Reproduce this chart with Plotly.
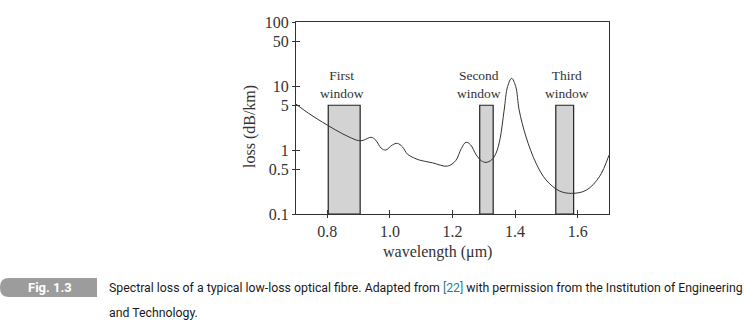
import math
import plotly.graph_objects as go

# ---- data ----
wavelength_um = [0.70, 0.74, 0.80, 0.85, 0.90, 0.915, 0.94, 0.955, 0.972, 0.987,
                 1.008, 1.024, 1.04, 1.056, 1.075, 1.093, 1.136, 1.184, 1.21, 1.228,
                 1.243, 1.258, 1.275, 1.292, 1.307, 1.325, 1.339, 1.352, 1.365, 1.376,
                 1.389, 1.402, 1.413, 1.435, 1.467, 1.499, 1.541, 1.580, 1.627, 1.669, 1.70]
loss_db_km = [5.2, 3.75, 2.45, 1.78, 1.40, 1.42, 1.58, 1.42, 1.07, 1.0,
              1.2, 1.27, 1.12, 0.86, 0.76, 0.70, 0.63, 0.56, 0.68, 1.05,
              1.32, 1.20, 0.85, 0.68, 0.64, 0.70, 0.89, 1.5, 4.2, 9.8,
              13.2, 9.8, 4.2, 1.6, 0.62, 0.34, 0.23, 0.21, 0.235, 0.38, 0.83]

window_names = ["First<br>window", "Second<br>window", "Third<br>window"]
window_start = [0.803, 1.287, 1.530]
window_end = [0.905, 1.330, 1.587]
window_top = [5, 5, 5]
window_label_x = [0.848, 1.285, 1.565]
axis_min_loss = 0.1

x_tickvals = [0.8, 1.0, 1.2, 1.4, 1.6]
x_ticktext = ["0.8", "1.0", "1.2", "1.4", "1.6"]
y_tickvals = [0.1, 0.5, 1, 5, 10, 50, 100]
y_ticktext = ["0.1", "0.5", "1", "5", "10", "50", "100"]

caption_tag = "Fig. 1.3"
caption_line1 = ("Spectral loss of a typical low-loss optical fibre. Adapted from "
                 "<span style='color:#2a7f8f'>[22]</span> with permission from the "
                 "Institution of Engineering")
caption_line2 = "and Technology."

# ---- layout geometry ----
W, H = 744, 332
L, R, T, B = 296, 135, 22, 118
pw, ph = W - L - R, H - T - B

def px(x):
    return (x - L) / pw

def py(y):
    return (H - B - y) / ph

SERIF = "Liberation Serif, Times New Roman, serif"
fig = go.Figure()

for xs, xe, top in zip(window_start, window_end, window_top):
    fig.add_trace(go.Scatter(
        x=[xs, xs, xe, xe, xs], y=[axis_min_loss, top, top, axis_min_loss, axis_min_loss],
        mode="lines", fill="toself", fillcolor="#d3d3d3",
        line=dict(color="#222", width=1.2), hoverinfo="skip", showlegend=False))

fig.add_trace(go.Scatter(
    x=wavelength_um, y=loss_db_km, mode="lines",
    line=dict(color="#333", width=1, shape="spline", smoothing=1.0),
    showlegend=False))

for name, lx, top in zip(window_names, window_label_x, window_top):
    fig.add_annotation(x=lx, y=math.log10(top), text=name, showarrow=False,
                       xanchor="center", yanchor="bottom", yshift=2,
                       font=dict(family=SERIF, size=13.5, color="#333"))

axis_common = dict(showline=True, linecolor="#333", linewidth=1, mirror=True,
                   showgrid=False, zeroline=False, ticks="outside", ticklen=3,
                   tickcolor="#333",
                   tickfont=dict(family=SERIF, size=16, color="#333"))

fig.update_layout(
    width=W, height=H, margin=dict(l=L, r=R, t=T, b=B),
    paper_bgcolor="white", plot_bgcolor="white",
    xaxis=dict(range=[0.7, 1.7], tickvals=x_tickvals, ticktext=x_ticktext,
               **axis_common),
    yaxis=dict(type="log", range=[-1, 2], tickvals=y_tickvals, ticktext=y_ticktext,
               **axis_common),
    xaxis2=dict(overlaying="x", range=[0.7, 1.7], tickvals=x_tickvals,
                showticklabels=False, ticks="inside", ticklen=4, tickcolor="#333",
                showline=False, showgrid=False, zeroline=False, anchor="y"),
    yaxis2=dict(overlaying="y", type="log", range=[-1, 2], tickvals=y_tickvals,
                showticklabels=False, ticks="inside", ticklen=4, tickcolor="#333",
                showline=False, showgrid=False, zeroline=False, anchor="x"),
)
fig.add_trace(go.Scatter(x=[None], y=[None], xaxis="x2", yaxis="y2",
                         showlegend=False, hoverinfo="skip"))

# axis titles
fig.add_annotation(xref="paper", yref="paper", x=px(437), y=py(252),
                   xanchor="center", yanchor="middle",
                   text="wavelength (μm)", showarrow=False,
                   font=dict(family=SERIF, size=16, color="#333"))
fig.add_annotation(xref="paper", yref="paper", x=px(250), y=py(127),
                   xanchor="center", yanchor="middle",
                   text="loss (dB/km)", textangle=-90, showarrow=False,
                   font=dict(family=SERIF, size=16, color="#333"))

# caption tag box with rounded left side
x0, x1 = px(0), px(97)
y0, y1 = py(297), py(278)
rx, ry = 9 / pw, 9 / ph
path = (f"M {x0+rx},{y1} L {x1},{y1} L {x1},{y0} L {x0+rx},{y0} "
        f"Q {x0},{y0} {x0},{y0+ry} L {x0},{y1-ry} Q {x0},{y1} {x0+rx},{y1} Z")
fig.add_shape(type="path", xref="paper", yref="paper", path=path,
              fillcolor="#9c9c9c", line=dict(width=0), layer="above")
fig.add_annotation(xref="paper", yref="paper", x=px(50), y=py(287.5),
                   xanchor="center", yanchor="middle",
                   text=f"<b>{caption_tag}</b>", showarrow=False,
                   font=dict(family="Roboto, Liberation Sans, sans-serif",
                             size=13, color="white"))
CAPF = dict(family="Roboto, Liberation Sans, sans-serif", size=12.3, color="#1a1a1a")
fig.add_annotation(xref="paper", yref="paper", x=px(107), y=py(287.5),
                   xanchor="left", yanchor="middle",
                   text=caption_line1, showarrow=False, font=CAPF)
fig.add_annotation(xref="paper", yref="paper", x=px(107), y=py(313),
                   xanchor="left", yanchor="middle",
                   text=caption_line2, showarrow=False, font=CAPF)

fig.write_html("out.html")
